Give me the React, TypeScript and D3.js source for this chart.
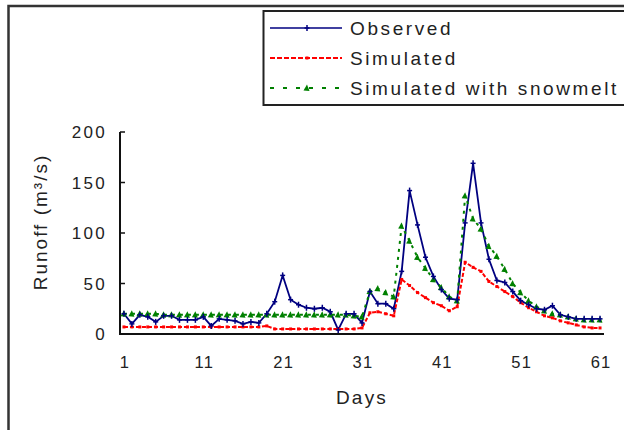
import React from "react";
import * as d3 from "d3";

const days: number[] = d3.range(1, 62);
const xTickLabels = ["1", "11", "21", "31", "41", "51", "61"];
const yTicks = [0, 50, 100, 150, 200];

const observed = [
  20, 10, 19, 17, 12, 18, 18, 14, 14, 14,
  17, 8, 15, 14, 13, 10, 12, 11, 20, 32,
  58, 34, 29, 26, 25, 26, 22, 4, 20, 20,
  11, 42, 30, 30, 25, 62, 142, 108, 76, 57,
  44, 35, 34, 110, 169, 110, 74, 53, 51, 42,
  33, 29, 25, 24, 28, 19, 17, 15, 15, 15, 15,
];
const simulated = [
  7, 7, 7, 7, 7, 7, 7, 7, 7, 7,
  7, 7, 7, 7, 7, 7, 7, 7, 8, 5,
  5, 5, 5, 5, 5, 5, 5, 5, 5, 5,
  6, 21, 22, 20, 18, 54, 48, 41, 36, 31,
  28, 23, 27, 71, 66, 62, 52, 47, 42, 37,
  31, 26, 22, 18, 16, 13, 11, 9, 7, 6, 6,
];
const simSnow = [
  20, 20, 20, 20, 20, 19, 19, 19, 19, 19,
  19, 19, 19, 19, 19, 19, 19, 19, 19, 19,
  19, 19, 19, 19, 19, 19, 19, 19, 19, 18,
  17, 42, 45, 41, 37, 107, 92, 76, 65, 54,
  46, 37, 33, 137, 114, 104, 87, 77, 64, 50,
  41, 33, 27, 23, 20, 19, 17, 15, 14, 14, 14,
];

const seriesNames = ["Observed", "Simulated", "Simulated with snowmelt"];
const seriesColors = ["#000080", "#ff0000", "#008000"];

const FONT = "'Liberation Sans', Arial, sans-serif";

export default function App() {
  const W = 624, H = 430;
  const x = d3.scaleBand<number>().domain(days).range([120, 604]);
  const cx = (d: number) => (x(d) as number) + x.bandwidth() / 2;
  const y = d3.scaleLinear().domain([0, 200]).range([334, 132]);

  const line = d3
    .line<number>()
    .x((_, i) => cx(days[i]))
    .y((v) => y(v));

  const allSeries = [observed, simulated, simSnow];
  const dashes = [undefined, "4,2", "3,5"];

  const marker = (k: number, px: number, py: number, key: string) => {
    const c = seriesColors[k];
    if (k === 0)
      return (
        <g key={key} stroke={c} strokeWidth={1.5}>
          <line x1={px - 2.5} x2={px + 2.5} y1={py} y2={py} />
          <line x1={px} x2={px} y1={py - 3} y2={py + 3} />
        </g>
      );
    if (k === 1)
      return <rect key={key} x={px - 1.5} y={py - 1.5} width={3} height={3} fill={c} />;
    return (
      <path
        key={key}
        d={`M${px - 3.5},${py + 2.5}L${px + 2.5},${py + 3}L${px},${py - 3.5}Z`}
        fill={c}
      />
    );
  };

  return (
    <svg
      width={W}
      height={H}
      style={{ position: "absolute", left: 0, top: 0, background: "#fff" }}
      fontFamily={FONT}
    >
      <rect x={0} y={0} width={W} height={H} fill="#fff" />
      {/* outer border */}
      <rect x={8.5} y={6} width={700} height={500} fill="none" stroke="#333" strokeWidth={2.5} />

      {/* axes */}
      <line x1={120} x2={120} y1={y(200)} y2={335} stroke="#111" strokeWidth={2} />
      <line x1={119} x2={604} y1={334} y2={334} stroke="#111" strokeWidth={2} />
      {yTicks.map((t) => (
        <g key={"yt" + t}>
          <line x1={120} x2={125} y1={y(t)} y2={y(t)} stroke="#111" strokeWidth={1.5} />
          <text
            x={107}
            y={y(t) + 6}
            textAnchor="end"
            fontSize={17}
            letterSpacing={2.3}
            fill="#222"
          >
            {t}
          </text>
        </g>
      ))}
      {xTickLabels.map((lab) => (
        <text
          key={"xt" + lab}
          x={cx(+lab) + 1}
          y={368}
          textAnchor="middle"
          fontSize={16.5}
          letterSpacing={1.2}
          fill="#222"
        >
          {lab}
        </text>
      ))}
      <text x={362} y={404} textAnchor="middle" fontSize={19} letterSpacing={2.2} fill="#222">
        Days
      </text>
      <text
        transform="translate(47,222) rotate(-90)"
        textAnchor="middle"
        fontSize={19}
        letterSpacing={2}
        fill="#222"
      >
        Runoff (m³/s)
      </text>

      {/* series */}
      {allSeries.map((s, k) => (
        <g key={"s" + k}>
          <path
            d={line(s) as string}
            fill="none"
            stroke={seriesColors[k]}
            strokeWidth={k === 0 ? 1.8 : 2}
            strokeDasharray={dashes[k]}
          />
        </g>
      ))}
      {[2, 1, 0].map((k) =>
        allSeries[k].map((v, i) => marker(k, cx(days[i]), y(v), `m${k}-${i}`))
      )}

      {/* legend */}
      <rect x={263.5} y={11} width={400} height={94} fill="#fff" stroke="#222" strokeWidth={2} />
      {seriesNames.map((n, k) => {
        const ly = 28 + k * 30;
        return (
          <g key={"lg" + k}>
            <line
              x1={270}
              x2={342}
              y1={ly}
              y2={ly}
              stroke={seriesColors[k]}
              strokeWidth={k === 0 ? 1.6 : 2}
              strokeDasharray={k === 0 ? undefined : k === 1 ? "5,2" : "4,9"}
            />
            {marker(k, 307, ly, "lm" + k)}
            <text x={350} y={ly + 7} fontSize={19} letterSpacing={2.6} fill="#222">
              {n}
            </text>
          </g>
        );
      })}
    </svg>
  );
}
